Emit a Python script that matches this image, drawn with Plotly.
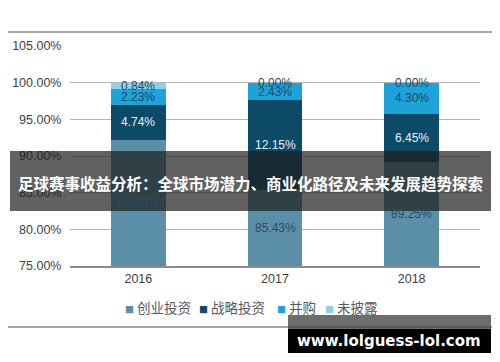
import plotly.graph_objects as go

years = ["2016", "2017", "2018"]
series_names = ["创业投资", "战略投资", "并购", "未披露"]
venture = [92.20, 85.43, 89.25]
strategic = [4.74, 12.15, 6.45]
mna = [2.23, 2.43, 4.30]
undisclosed = [0.84, 0.00, 0.00]
ytick_vals = [75, 80, 85, 90, 95, 100, 105]
ytick_text = ["75.00%", "80.00%", "85.00%", "90.00%", "95.00%", "100.00%", "105.00%"]
title_text = "足球赛事收益分析：全球市场潜力、商业化路径及未来发展趋势探索"
watermark = "www.lolguess-lol.com"

colors = ["#5b8fa8", "#0c4a68", "#1ea2d8", "#8dd0e8"]
label_colors = ["#2b4c63", "#e8f0f4", "#1c4a66", "#1c4a66"]
all_series = [venture, strategic, mna, undisclosed]

# page offset (default body margin of the html page)
OX, OY = 8, 8
W, H = 500, 362
# plot area in page pixels: x 70..480, y 46..266
L = 70 - OX
T = 46 - OY
R = W - (480 - OX)
B = H - (266 - OY)
pw, ph = W - L - R, H - T - B


def px(x):
    return (x - OX - L) / pw


def py(y):
    return (H - B - (y - OY)) / ph


fig = go.Figure()
for name, vals, c in zip(series_names, all_series, colors):
    fig.add_trace(go.Bar(x=years, y=vals, name=name, marker=dict(color=c, line=dict(width=0)),
                         showlegend=False))

annotations = []
for i, yr in enumerate(years):
    base = 0.0
    for k, vals in enumerate(all_series):
        v = vals[i]
        mid = base + v / 2
        if k == 0:
            mid = (75 + base + v) / 2
        annotations.append(dict(x=i, y=mid, xref="x", yref="y", text=f"{v:.2f}%",
                                showarrow=False,
                                font=dict(family="Liberation Sans, Arial", size=12, color=label_colors[k])))
        base += v

# legend drawn as text entries
legend_x = [158, 232, 296, 351]
for name, c, lx in zip(series_names, colors, legend_x):
    annotations.append(dict(x=px(lx), y=py(307), xref="paper", yref="paper",
                            text=f"<span style='color:{c};font-size:9px'>■</span> {name}",
                            showarrow=False, xanchor="center", yanchor="middle",
                            font=dict(family="Noto Sans CJK SC", size=13.5, color="#595959")))

annotations.append(dict(x=px(250), y=py(183), xref="paper", yref="paper", text=f"<b>{title_text}</b>",
                        showarrow=False, xanchor="center", yanchor="middle",
                        font=dict(family="Noto Sans CJK SC", size=15.5, color="white")))
annotations.append(dict(x=px(389), y=py(341), xref="paper", yref="paper", text=f"<b>{watermark}</b>",
                        showarrow=False, xanchor="center", yanchor="middle",
                        font=dict(family="DejaVu Sans", size=15, color="white")))

shapes = [
    dict(type="rect", xref="paper", yref="paper", x0=px(3), x1=px(495), y0=py(327), y1=py(32),
         line=dict(color="#8a8a8a", width=1.5), fillcolor="rgba(0,0,0,0)", layer="below"),
    dict(type="rect", xref="paper", yref="paper", x0=px(10), x1=px(491), y0=py(211), y1=py(151),
         line=dict(width=0), fillcolor="rgba(30,30,30,0.70)", layer="above"),
    dict(type="rect", xref="paper", yref="paper", x0=px(288), x1=px(491), y0=py(329), y1=py(315),
         line=dict(width=0), fillcolor="rgba(60,60,60,0.75)", layer="above"),
    dict(type="rect", xref="paper", yref="paper", x0=px(288), x1=px(491), y0=py(353), y1=py(329),
         line=dict(width=0), fillcolor="#000000", layer="above"),
]

fig.update_layout(
    width=W, height=H,
    margin=dict(l=L, r=R, t=T, b=B),
    paper_bgcolor="white", plot_bgcolor="white",
    barmode="stack", bargap=0.6,
    font=dict(family="Liberation Sans, Arial", size=12, color="#595959"),
    showlegend=False,
    xaxis=dict(type="category", range=[-0.5, 2.5], showline=True, linecolor="#8c8c8c", linewidth=1.5,
               ticks="", tickfont=dict(size=12.5, color="#404040"), showgrid=False, automargin=False),
    yaxis=dict(range=[75, 105], tickvals=ytick_vals, ticktext=ytick_text, showgrid=True,
               gridcolor="#b5b5b5", gridwidth=1, zeroline=False, showline=False,
               ticks="outside", ticklen=5, tickcolor="white", automargin=False,
               tickfont=dict(size=12.5, color="#404040")),
    annotations=annotations,
    shapes=shapes,
)

fig.write_html("out.html")
